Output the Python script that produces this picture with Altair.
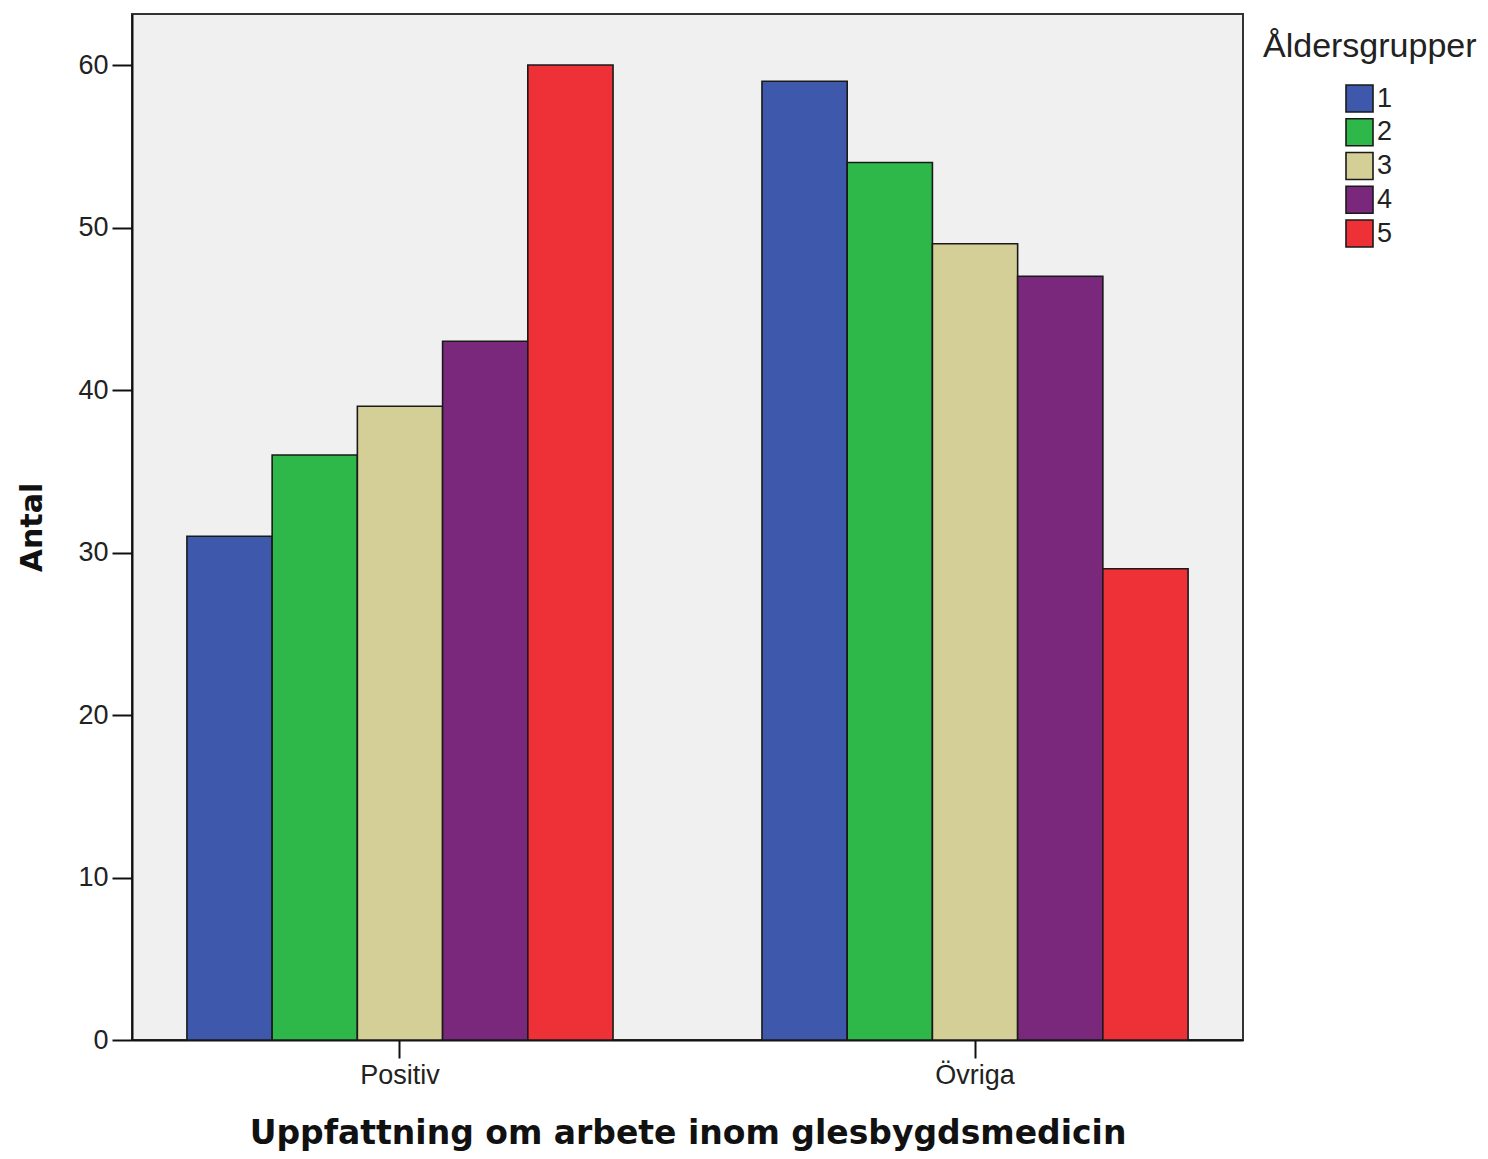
import altair as alt
import pandas as pd

categories = ["Positiv", "Övriga"]
groups = ["1", "2", "3", "4", "5"]
positiv = [31, 36, 39, 43, 60]
ovriga = [59, 54, 49, 47, 29]
colors = ["#3e58ac", "#2fb84a", "#d4cf97", "#7a287b", "#ee3137"]
legend_title = ["Åldersgrupper"]

rows = []
for cat, vals in zip(categories, [positiv, ovriga]):
    for g, v in zip(groups, vals):
        rows.append({"Uppfattning": cat, "Åldersgrupper": g, "Antal": v})
df = pd.DataFrame(rows)
title_df = pd.DataFrame({"t": legend_title})

W, H = 1111, 1026

bars = alt.Chart(df).mark_bar(stroke="#1a1a1a", strokeWidth=1.6).encode(
    x=alt.X(
        "Uppfattning:N",
        sort=categories,
        scale=alt.Scale(paddingInner=0.259, paddingOuter=0.0955),
        axis=alt.Axis(
            title="Uppfattning om arbete inom glesbygdsmedicin",
            labelAngle=0,
            labelFont="Liberation Sans",
            labelFontSize=27,
            labelColor="#222222",
            labelPadding=4,
            tickSize=18,
            tickWidth=2,
            tickColor="#111111",
            domainColor="#111111",
            domainWidth=2,
            titleFont="DejaVu Sans",
            titleFontWeight="bold",
            titleFontSize=33,
            titleColor="#111111",
            titleX=W / 2,
            titleY=93,
            titleAlign="center",
            titleBaseline="middle",
        ),
    ),
    xOffset=alt.XOffset(
        "Åldersgrupper:N",
        sort=groups,
        scale=alt.Scale(paddingInner=0, paddingOuter=0),
    ),
    y=alt.Y(
        "Antal:Q",
        scale=alt.Scale(domain=[0, 63.14], nice=False, zero=True),
        axis=alt.Axis(
            title="Antal",
            values=[0, 10, 20, 30, 40, 50, 60],
            grid=False,
            labelFont="Liberation Sans",
            labelFontSize=27,
            labelColor="#222222",
            labelPadding=4,
            tickSize=20,
            tickWidth=2,
            tickColor="#111111",
            domainColor="#111111",
            domainWidth=2,
            titleFont="DejaVu Sans",
            titleFontWeight="bold",
            titleFontSize=30,
            titleColor="#111111",
            titleAngle=-90,
            titleX=-100,
            titleY=513,
            titleAlign="center",
            titleBaseline="middle",
        ),
    ),
    color=alt.Color(
        "Åldersgrupper:N",
        sort=groups,
        scale=alt.Scale(domain=groups, range=colors),
        legend=alt.Legend(
            title=None,
            orient="none",
            legendX=1213,
            legendY=70,
            padding=0,
            symbolType="square",
            symbolSize=729,
            symbolStrokeColor="#1a1a1a",
            symbolStrokeWidth=1.6,
            symbolOpacity=1,
            labelFont="Liberation Sans",
            labelFontSize=27,
            labelColor="#222222",
            labelOffset=3,
            rowPadding=-1.25,
        ),
    ),
)

title_text = alt.Chart(title_df).mark_text(
    align="left",
    baseline="middle",
    font="Liberation Sans",
    fontSize=34,
    color="#222222",
).encode(
    text="t:N",
    x=alt.value(1131),
    y=alt.value(33),
)

chart = alt.layer(bars, title_text).properties(
    width=W,
    height=H,
).configure_view(
    fill="#f0f0f0", stroke="#333333", strokeWidth=2
).properties(
    autosize=alt.AutoSizeParams(type="none"),
    padding={"left": 124, "top": 6, "right": 237, "bottom": 111},
)

chart.save("out.html", embed_options={"renderer": "svg", "actions": False})
